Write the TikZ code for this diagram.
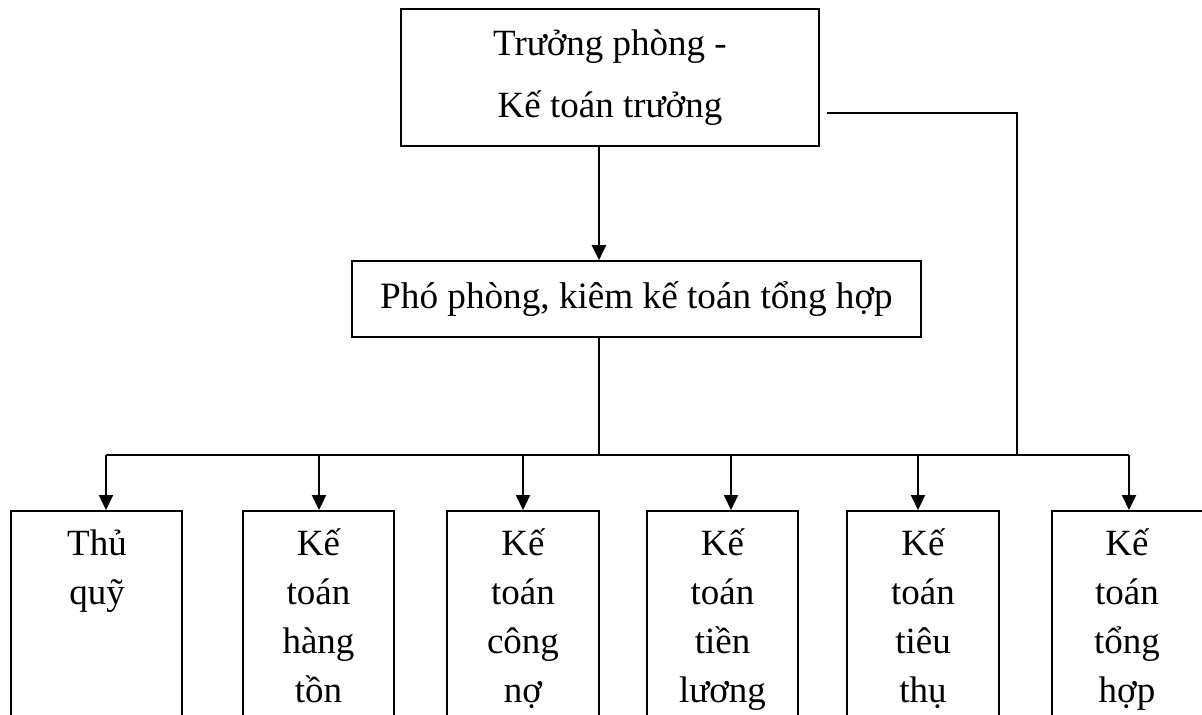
\documentclass[tikz,border=0pt]{standalone}
\usepackage{fontspec}
\setmainfont{Liberation Serif}
\usetikzlibrary{arrows.meta}
\begin{document}
\begin{tikzpicture}[x=0.5pt,y=-0.5pt,
  box/.style={draw=black, line width=0.85pt, inner sep=0pt, rectangle},
  lbl/.style={font=\fontsize{18.5pt}{24.5pt}\selectfont, align=center, inner sep=0pt},
  arr/.style={line width=1.15pt, -{Triangle[width=7pt,length=7.5pt]}},
  thick line/.style={line width=1.1pt},
  thin line/.style={line width=0.75pt}]
\useasboundingbox (0,0) rectangle (1202,715);
% top box
\node[box, minimum width=209pt, minimum height=68.5pt, align=center,
  font=\fontsize{18.5pt}{31pt}\selectfont] (top) at (610,77.5) {Trưởng phòng -\\Kế toán trưởng};
% deputy box
\node[box, minimum width=284.5pt, minimum height=38pt,
  font=\fontsize{18.6pt}{24.5pt}\selectfont] (pho) at (636.5,299) {Phó phòng, kiêm kế toán tổng hợp};
% bottom boxes
\node[box, anchor=north, minimum width=85.5pt, minimum height=150pt] (b1) at (96.5,510) {};
\node[box, anchor=north, minimum width=75.5pt, minimum height=150pt] (b2) at (318.5,510) {};
\node[box, anchor=north, minimum width=76pt, minimum height=150pt] (b3) at (523,510) {};
\node[box, anchor=north, minimum width=75.5pt, minimum height=150pt] (b4) at (722.5,510) {};
\node[box, anchor=north, minimum width=76pt, minimum height=150pt] (b5) at (923,510) {};
\node[box, anchor=north, minimum width=76.5pt, minimum height=150pt] (b6) at (1128.5,510) {};
% texts (base anchor = baseline of last line)
\node[lbl, anchor=base] (t1) at (97,604) {Thủ\\quỹ};
\node[lbl, anchor=base] (t2) at (318.5,702) {Kế\\toán\\hàng\\tồn};
\node[lbl, anchor=base] (t3) at (523,702) {Kế\\toán\\công\\nợ};
\node[lbl, anchor=base] (t4) at (722.5,702) {Kế\\toán\\tiền\\lương};
\node[lbl, anchor=base] (t5) at (923,702) {Kế\\toán\\tiêu\\thụ};
\node[lbl, anchor=base] (t6) at (1127,702) {Kế\\toán\\tổng\\hợp};
% coordinates
\coordinate (ax) at (599,455);
\coordinate (r0) at (827,113);
\coordinate (r1) at (1017,113);
\coordinate (r2) at (1017,455);
\coordinate (d1) at (106,455);
\coordinate (d2) at (319,455);
\coordinate (d3) at (523,455);
\coordinate (d4) at (731,455);
\coordinate (d5) at (918,455);
\coordinate (d6) at (1129,455);
% connectors
\draw[arr] (ax |- top.south) -- (ax |- pho.north);
\draw[thin line] (ax |- pho.south) -- (ax);
\draw[thin line] (r0) -- (r1) -- (r2);
\draw[thick line] (d1) -- (d6);
\draw[arr] (d1) -- (d1 |- b1.north);
\draw[arr] (d2) -- (d2 |- b2.north);
\draw[arr] (d3) -- (d3 |- b3.north);
\draw[arr] (d4) -- (d4 |- b4.north);
\draw[arr] (d5) -- (d5 |- b5.north);
\draw[arr] (d6) -- (d6 |- b6.north);
\end{tikzpicture}
\end{document}
